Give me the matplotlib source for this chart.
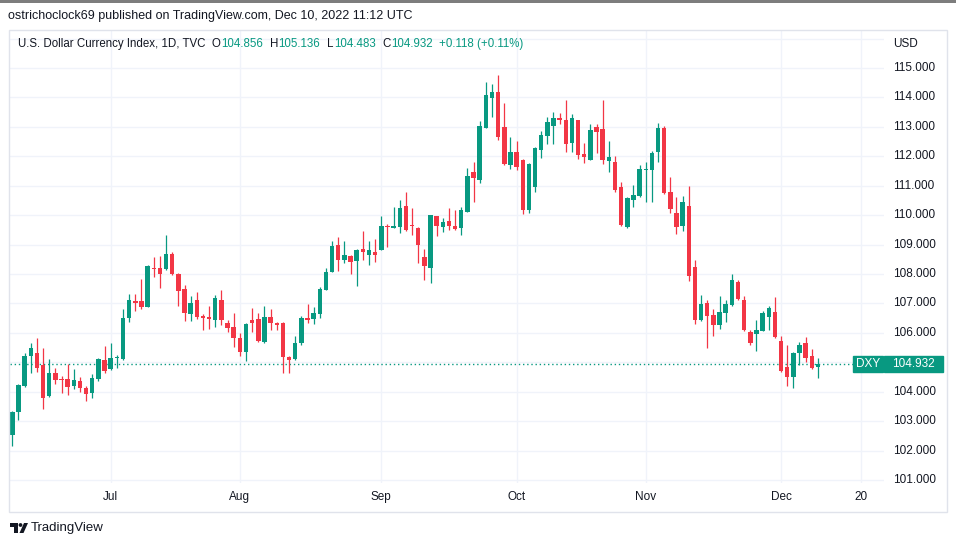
import matplotlib
matplotlib.use('Agg')
import matplotlib.pyplot as plt
import pandas as pd
from matplotlib.patches import Rectangle, Polygon, Circle
from matplotlib.transforms import Affine2D

plt.rcParams['font.family'] = ['Liberation Sans', 'DejaVu Sans']

# ---- data (DXY daily, TVC) ----
opens = [102.54, 103.31, 104.19, 105.20, 105.33, 104.90, 103.85, 104.63, 104.43, 104.42,
         104.18, 104.36, 104.13, 103.95, 104.44, 105.07, 104.76, 105.13, 105.10, 106.49,
         107.08, 107.09, 106.89, 108.20, 108.20, 108.16, 108.69, 108.00, 107.49, 106.63,
         107.11, 106.58, 106.55, 106.44, 107.13, 106.35, 106.20, 105.83, 105.34, 106.43,
         106.46, 105.70, 106.55, 106.33, 106.33, 105.18, 105.11, 105.64, 106.49, 106.46,
         106.63, 107.47, 108.06, 108.98, 108.49, 108.60, 108.44, 108.85, 108.66, 108.75,
         108.83, 109.64, 109.58, 109.60, 110.30, 109.68, 109.56, 108.58, 108.19, 109.96,
         109.59, 109.80, 109.64, 109.56, 110.12, 111.46, 111.20, 112.97, 113.99, 114.17,
         112.99, 111.71, 112.16, 111.88, 110.18, 110.97, 112.22, 112.69, 113.04, 113.29,
         113.24, 112.44, 113.24, 112.07, 111.88, 113.01, 112.93, 111.84, 111.80, 110.94,
         109.61, 110.51, 110.66, 111.53, 111.52, 112.14, 112.97, 110.77, 110.06, 109.62,
         110.32, 108.23, 106.43, 107.01, 106.62, 106.26, 106.68, 106.96, 107.72, 107.13,
         106.03, 105.97, 106.08, 106.55, 106.72, 105.74, 104.84, 104.50, 105.31, 105.65,
         105.20, 104.856]
highs = [103.34, 104.25, 105.31, 105.67, 105.81, 105.50, 105.10, 104.82, 104.54, 104.93,
         104.76, 104.50, 104.20, 104.59, 105.13, 105.54, 105.64, 105.24, 106.81, 107.33,
         107.33, 107.82, 108.29, 108.58, 108.61, 109.32, 108.75, 108.04, 107.64, 107.26,
         107.40, 106.63, 106.90, 107.29, 107.46, 106.44, 106.67, 106.00, 106.35, 106.83,
         106.67, 106.92, 106.80, 106.38, 106.38, 105.20, 105.91, 106.56, 106.97, 106.89,
         107.56, 108.21, 109.11, 109.26, 109.11, 108.66, 108.85, 109.47, 109.11, 109.20,
         109.98, 109.71, 110.28, 110.53, 110.77, 110.24, 109.60, 108.85, 110.00, 109.98,
         109.90, 110.24, 110.19, 110.28, 111.60, 111.80, 113.21, 114.51, 114.46, 114.76,
         113.80, 112.65, 112.52, 111.90, 111.76, 112.31, 112.86, 113.33, 113.50, 113.48,
         113.91, 113.44, 113.24, 112.44, 113.10, 113.10, 113.91, 112.52, 112.00, 111.14,
         110.62, 111.02, 111.69, 111.80, 112.18, 113.14, 113.02, 111.28, 110.62, 110.65,
         110.99, 108.46, 107.27, 107.13, 106.82, 107.25, 107.10, 108.00, 107.78, 107.24,
         106.09, 106.44, 106.76, 106.93, 107.21, 105.91, 105.59, 105.34, 105.68, 105.85,
         105.46, 105.136]
lows = [102.14, 103.03, 104.17, 104.65, 104.67, 103.42, 103.83, 104.25, 103.94, 103.89,
        104.08, 104.00, 103.68, 103.77, 104.36, 104.65, 104.73, 104.82, 105.08, 106.38,
        106.76, 106.81, 106.87, 107.90, 107.52, 108.12, 107.95, 106.93, 106.40, 106.40,
        106.46, 106.10, 106.12, 106.21, 106.26, 106.04, 105.53, 105.23, 105.03, 106.04,
        105.70, 105.66, 106.10, 106.10, 104.63, 104.63, 105.09, 105.58, 106.32, 106.29,
        106.51, 107.45, 108.06, 108.10, 108.38, 108.00, 107.59, 108.49, 108.30, 108.40,
        108.80, 108.92, 109.57, 109.40, 109.45, 109.34, 108.36, 107.81, 107.70, 109.30,
        109.43, 109.49, 109.49, 109.34, 110.10, 110.46, 111.09, 112.95, 113.33, 112.56,
        111.71, 111.56, 111.52, 110.05, 110.07, 110.78, 111.93, 112.41, 112.42, 113.09,
        112.13, 112.16, 111.90, 111.76, 111.86, 112.10, 111.74, 111.48, 110.79, 109.64,
        109.56, 110.29, 110.63, 110.43, 110.43, 111.82, 110.71, 110.07, 109.36, 109.47,
        107.75, 106.31, 106.39, 105.47, 105.90, 106.12, 106.37, 106.93, 107.13, 106.05,
        105.60, 105.37, 106.08, 106.10, 105.82, 104.67, 104.18, 104.12, 104.92, 105.01,
        104.76, 104.483]
closes = [103.31, 104.22, 105.20, 105.47, 104.82, 103.77, 104.63, 104.39, 104.39, 104.16,
          104.40, 104.11, 103.92, 104.47, 105.10, 104.71, 105.13, 105.18, 106.49, 107.10,
          107.03, 106.87, 108.26, 108.16, 108.00, 108.69, 107.99, 107.42, 106.67, 107.03,
          106.55, 106.50, 106.46, 107.18, 106.44, 106.15, 105.81, 105.35, 106.31, 106.33,
          105.72, 106.55, 106.33, 106.27, 105.18, 105.09, 105.64, 106.49, 106.43, 106.66,
          107.50, 108.08, 108.94, 108.49, 108.63, 108.40, 108.83, 108.74, 108.81, 108.66,
          109.64, 109.60, 109.60, 110.24, 109.49, 109.62, 108.97, 108.27, 110.00, 109.62,
          109.76, 109.62, 109.54, 110.19, 111.33, 111.26, 113.03, 114.08, 114.17, 112.67,
          111.74, 112.16, 111.63, 110.18, 111.73, 112.27, 112.73, 113.16, 113.29, 113.24,
          112.41, 113.29, 112.05, 111.99, 112.90, 112.81, 111.86, 111.99, 110.87, 109.66,
          110.59, 110.67, 111.58, 111.56, 112.12, 112.97, 110.75, 110.20, 109.60, 110.45,
          107.92, 106.43, 106.99, 106.56, 106.28, 106.71, 106.99, 107.80, 107.16, 106.09,
          105.64, 106.10, 106.67, 106.84, 105.85, 104.72, 104.50, 105.31, 105.59, 105.15,
          104.814, 104.932]
first_date = '2022-06-09'
time_ticks = ['2022-07-01', '2022-08-01', '2022-09-01', '2022-10-03', '2022-11-01', '2022-12-01', '2022-12-20']
time_labels = ['Jul', 'Aug', 'Sep', 'Oct', 'Nov', 'Dec', '20']
price_labels = [101, 102, 103, 104, 106, 107, 108, 109, 110, 111, 112, 113, 114, 115]
grid_levels = list(range(101, 117))
symbol = 'DXY'

UP = '#089981'
DOWN = '#F23645'
TXT = '#131722'
GRID = '#f0f3fa'

W, H = 956, 546
fig = plt.figure(figsize=(W / 100, H / 100), dpi=100)
fig.patch.set_facecolor('white')
pix = Affine2D().scale(1 / W, -1 / H).translate(0, 1) + fig.transFigure

L_, R_, T_, B_ = 10, 884, 30, 483
ax = fig.add_axes([L_ / W, 1 - B_ / H, (R_ - L_) / W, (B_ - T_) / H])
ax.set_facecolor('white')
for s in ax.spines.values():
    s.set_visible(False)

n = len(closes)
all_days = pd.bdate_range(first_date, '2022-12-30')
pos = {d.strftime('%Y-%m-%d'): i for i, d in enumerate(all_days)}

bar_px = 6.15
ax.set_xlim((L_ - 12.3) / bar_px, (R_ - 12.3) / bar_px)
ax.set_ylim(115 - (B_ - 68) / 29.43, 115 - (T_ - 68) / 29.43)

for lv in grid_levels:
    ax.axhline(lv, color=GRID, lw=1, zorder=0)
tick_pos = [pos[t] for t in time_ticks]
for tp in tick_pos:
    ax.axvline(tp, color=GRID, lw=1, zorder=0)

for i in range(n):
    o, h, l, c = opens[i], highs[i], lows[i], closes[i]
    col = UP if c >= o else DOWN
    ax.vlines(i, l, h, color=col, lw=0.9, zorder=2)
    body = max(abs(c - o), 0.035)
    ax.bar(i, body, bottom=min(o, c), width=0.72, color=col, zorder=3, linewidth=0)

last = closes[-1]
ax.axhline(last, color=UP, lw=1, ls=(0, (1, 2)), zorder=1)

ax.set_xticks([])
ax.set_yticks([])

def ax_x(px):
    return (px - L_) / (R_ - L_)

ytr = ax.get_yaxis_transform()
for lv in price_labels:
    ax.text(ax_x(893), lv, f'{lv:.3f}', transform=ytr, ha='left', va='center',
            fontsize=8.5, color=TXT, clip_on=False)

xtr = ax.get_xaxis_transform()
for tp, lab in zip(tick_pos, time_labels):
    ax.text(tp, -(497 - B_) / (B_ - T_), lab, transform=xtr, ha='center', va='center',
            fontsize=8.5, color=TXT, clip_on=False)

# price label boxes
hh = 16 / 29.43
ax.add_patch(Rectangle((ax_x(853), last - hh / 2), ax_x(883) - ax_x(853), hh,
                       transform=ytr, color=UP, clip_on=False, zorder=5))
ax.add_patch(Rectangle((ax_x(884), last - hh / 2), ax_x(943) - ax_x(884), hh,
                       transform=ytr, color=UP, clip_on=False, zorder=5))
ax.text(ax_x(868), last, symbol, transform=ytr, ha='center', va='center', fontsize=8.5,
        color='white', clip_on=False, zorder=6)
ax.text(ax_x(913.5), last, f'{last:.3f}', transform=ytr, ha='center', va='center',
        fontsize=8.5, color='white', clip_on=False, zorder=6)

# panel border
fig.patches.append(Rectangle((9.5, 29.5), 938, 482, transform=pix, fill=False,
                             edgecolor='#e0e3eb', lw=1))
# top cropped strip
fig.patches.append(Rectangle((0, 0), W, 3, transform=pix, color='#7d7d7d', lw=0))

fig.text(8, 16, 'ostrichoclock69 published on TradingView.com, Dec 10, 2022 11:12 UTC',
         transform=pix, ha='left', va='center', fontsize=9, color=TXT)

# legend line, laid out piece by piece
chg = closes[-1] - closes[-2]
pieces = [('U.S. Dollar Currency Index, 1D, TVC', TXT, 6),
          ('O', TXT, 0), (f'{opens[-1]:.3f}', UP, 6),
          ('H', TXT, 0), (f'{highs[-1]:.3f}', UP, 6),
          ('L', TXT, 0), (f'{lows[-1]:.3f}', UP, 6),
          ('C', TXT, 0), (f'{closes[-1]:.3f}', UP, 6),
          (f'+{chg:.3f} (+{chg / closes[-2] * 100:.2f}%)', UP, 0)]
renderer = fig.canvas.get_renderer()
xcur = 18
for s, col, gap in pieces:
    t = fig.text(xcur, 44, s, transform=pix, ha='left', va='center', fontsize=8.3, color=col)
    w = t.get_window_extent(renderer=renderer).width
    xcur += w + gap + 0.5
fig.text(893, 44, 'USD', transform=pix, ha='left', va='center', fontsize=8.5, color=TXT)

# TradingView logo
logo = '#131722'
fig.patches.append(Polygon([(10, 523), (18, 523), (18, 533), (14.5, 533), (14.5, 527), (10, 527)],
                           closed=True, transform=pix, color=logo, lw=0))
fig.patches.append(Circle((20.5, 525), 1.9, transform=pix, color=logo, lw=0))
fig.patches.append(Polygon([(24, 523), (28, 523), (23.5, 533), (19.5, 533)],
                           closed=True, transform=pix, color=logo, lw=0))
fig.text(31, 528, 'TradingView', transform=pix, ha='left', va='center', fontsize=9.5, color=TXT)

fig.savefig('out.png', dpi=100, facecolor='white')
